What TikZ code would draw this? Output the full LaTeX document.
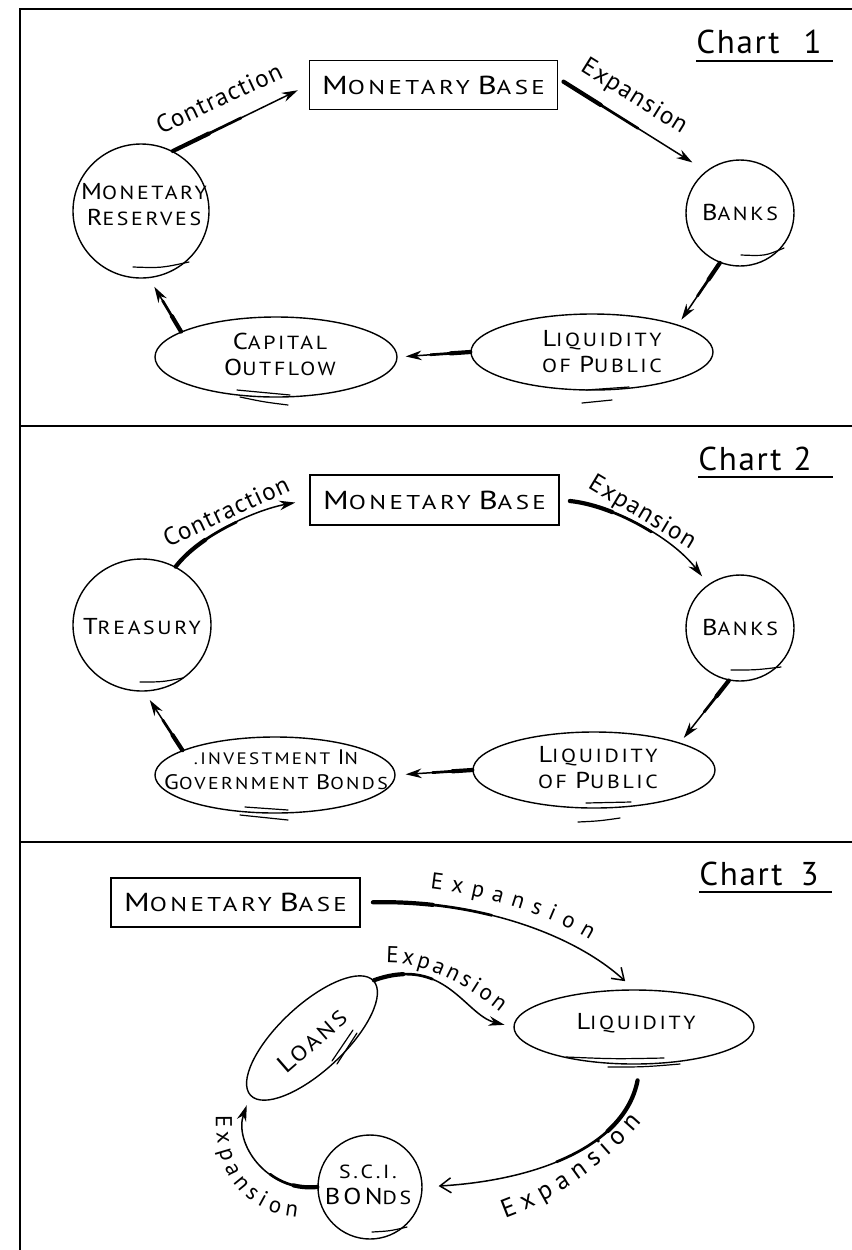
\documentclass[tikz,border=0pt]{standalone}
\usepackage{fontspec}
\setmainfont{PT Sans}
\newfontfamily\capsfont[FakeStretch=1.15,LetterSpace=14]{PT Sans}
\newfontfamily\boxfont[FakeStretch=1.25,LetterSpace=17]{PT Sans}
\newfontfamily\lowfont[LetterSpace=5]{PT Sans}
\usetikzlibrary{shapes.geometric,arrows.meta,decorations.text}
\newcommand\bigL[1]{{\fontsize{11.5pt}{13pt}\selectfont #1}}
\newcommand\smL[1]{{\fontsize{9.5pt}{13pt}\selectfont #1}}
\newcommand\sca[2]{\bigL{#1}\smL{#2}}
\newcommand\scl[2]{{\fontsize{12.5pt}{14pt}\selectfont #1}{\fontsize{10.5pt}{14pt}\selectfont #2}}
\newcommand\scb[2]{{\fontsize{13pt}{15pt}\selectfont #1}{\fontsize{10pt}{15pt}\selectfont #2}}
\newcommand\scc[2]{{\fontsize{10.5pt}{12.5pt}\selectfont #1}{\fontsize{8.6pt}{12.5pt}\selectfont #2}}
\newcommand\lblfont{\lowfont\fontsize{11.5pt}{13pt}\selectfont}
\newcommand\lblfontb{\lowfont\fontsize{13pt}{15pt}\selectfont}
\newcommand\arcfont{\lowfont\fontsize{12.5pt}{14pt}\selectfont}
\newcommand\titlefont{\lowfont\fontsize{16.5pt}{18pt}\selectfont}
\begin{document}
\begin{tikzpicture}[x=0.5pt,y=-0.5pt,
  every node/.style={inner sep=0pt},
  borderline/.style={line width=0.7pt},
  uline/.style={line width=0.8pt},
  basebox/.style={draw, line width=0.9pt, minimum width=124pt, minimum height=24.5pt, font=\boxfont},
  oval/.style={draw, ellipse, line width=0.7pt},
  ovaltext/.style={font=\capsfont\fontsize{9.5pt}{13pt}\selectfont, align=center},
  conn/.style={line width=0.75pt, line cap=round, -{Stealth[length=8pt,width=4.8pt,inset=2.6pt]}},
  barb/.style={line width=0.75pt, line cap=round, -{Straight Barb[length=5.5pt,width=7.5pt]}},
  taper/.style 2 args={preaction={draw,-,line width=2.1pt,line cap=round,dash pattern=on #1 off 2000pt},
     preaction={draw,-,line width=1.35pt,line cap=round,dash pattern=on #2 off 2000pt}},
  hatchline/.style={line width=0.6pt, line cap=round},
  lbl/.style={font=\arcfont},
  charttitle/.style={font=\titlefont, anchor=base west}
]
\useasboundingbox (0,0) rectangle (852,1250);
% frame
\draw[borderline] (20,1250) -- (20,9) -- (852,9);
\draw[borderline] (20,426) -- (852,426);
\draw[borderline] (20,842) -- (852,842);

% ================= Chart 1 =================
\node[charttitle] (t1) at (696,53) {Chart\hspace{12pt}1};
\draw[uline] ([yshift=-4pt]t1.base west) -- ++(137,0);
\node[basebox] (mb1) at (433.5,85) {\scb{M}{ONETARY}\hspace{4pt}\scb{B}{ASE}};
\node[oval, minimum width=68pt, minimum height=67pt] (res1) at (141,211) {};
\node[ovaltext] (res1t) at (144,205) {\sca{M}{ONETARY}\\\sca{R}{ESERVES}};
\node[oval, minimum width=54pt, minimum height=53pt] (banks1) at (740,213) {};
\node[ovaltext] (banks1t) at (740,212) {\sca{B}{ANKS}};
\node[oval, minimum width=121pt, minimum height=38pt] (liq1) at (592,352) {};
\node[ovaltext] (liq1t) at (602,352) {\sca{L}{IQUIDITY}\\\smL{OF} \sca{P}{UBLIC}};
\node[oval, minimum width=121pt, minimum height=40pt] (cap1) at (276,357) {};
\node[ovaltext] (cap1t) at (280,354) {\sca{C}{APITAL}\\\sca{O}{UTFLOW}};

\draw[conn, taper={20pt}{38pt}, shorten >=6pt] (res1.62) -- (mb1.west);
\draw[conn, taper={22pt}{44pt}, shorten <=3pt, shorten >=8pt] (mb1.3) -- (banks1.129);
\draw[conn, taper={10pt}{20pt}, shorten >=3pt] (banks1.248) -- (liq1.north east);
\draw[conn, taper={10pt}{20pt}, shorten >=4pt] (liq1.west) -- (cap1.east);
\draw[conn, taper={9pt}{18pt}, shorten >=5pt] (cap1.165) -- (res1.277);

\node[lbl, rotate=25] (c1lab) at (219,98) {Contraction};
\node[lbl, rotate=-32] (e1lab) at (634,97) {Expansion};

\draw[hatchline] ([shift={(-8,56)}]res1.center) .. controls ([shift={(20,57)}]res1.center) .. ([shift={(48,51)}]res1.center);
\draw[hatchline] ([shift={(1,42)}]banks1.center) .. controls ([shift={(25,43)}]banks1.center) .. ([shift={(44,35)}]banks1.center);
\draw[hatchline] ([shift={(-6,38)}]liq1.center) .. controls ([shift={(16,37)}]liq1.center) .. ([shift={(37,35)}]liq1.center);
\draw[hatchline] ([shift={(-10,51)}]liq1.center) .. controls ([shift={(5,50)}]liq1.center) .. ([shift={(20,48)}]liq1.center);
\draw[hatchline] ([shift={(-39,33)}]cap1.center) .. controls ([shift={(-12,36)}]cap1.center) .. ([shift={(14,38)}]cap1.center);
\draw[hatchline] ([shift={(-36,40)}]cap1.center) .. controls ([shift={(-12,45)}]cap1.center) .. ([shift={(12,48)}]cap1.center);

% ================= Chart 2 =================
\node[charttitle] (t2) at (698,470) {Chart\hspace{6pt}2};
\draw[uline] ([yshift=-3.5pt]t2.base west) -- ++(135,0);
\node[basebox, minimum width=124.5pt, minimum height=25pt] (mb2) at (434.5,500) {\scb{M}{ONETARY}\hspace{4pt}\scb{B}{ASE}};
\node[oval, minimum width=69pt, minimum height=66pt] (tre2) at (142,625) {};
\node[ovaltext] (tre2t) at (142,627) {\sca{T}{REASURY}};
\node[oval, minimum width=54pt, minimum height=53pt] (banks2) at (740,628) {};
\node[ovaltext] (banks2t) at (740,627) {\sca{B}{ANKS}};
\node[oval, minimum width=121pt, minimum height=38pt] (liq2) at (594,770) {};
\node[ovaltext] (liq2t) at (598,768) {\sca{L}{IQUIDITY}\\\smL{OF} \sca{P}{UBLIC}};
\node[oval, minimum width=120pt, minimum height=38pt] (inv2) at (275,775) {};
\node[ovaltext, font=\capsfont\fontsize{8.3pt}{12.5pt}\selectfont] (inv2t) at (276,770) {.INVESTMENT \scc{I}{N}\\\scc{G}{OVERNMENT} \scc{B}{ONDS}};

\draw[conn, taper={20pt}{38pt}, shorten >=7pt] (tre2.60) .. controls (200,535) and (255,510) .. (mb2.west);
\draw[conn, taper={22pt}{44pt}, shorten <=5pt, shorten >=5pt] (mb2.east) .. controls (610,505) and (670,535) .. (banks2.126);
\draw[conn, taper={10pt}{20pt}, shorten >=3pt] (banks2.258) -- (liq2.north east);
\draw[conn, taper={10pt}{20pt}, shorten >=5pt] (liq2.west) -- (inv2.east);
\draw[conn, taper={9pt}{18pt}, shorten >=5pt] (inv2.165) -- (tre2.272);

\node[lbl, rotate=25] (c2lab) at (226,511) {Contraction};
\node[lbl, rotate=-31] (e2lab) at (642,513) {Expansion};

\draw[hatchline] ([shift={(-2,57)}]tre2.center) .. controls ([shift={(20,57)}]tre2.center) .. ([shift={(41,53)}]tre2.center);
\draw[hatchline] ([shift={(-9,42)}]banks2.center) .. controls ([shift={(16,42)}]banks2.center) .. ([shift={(41,39)}]banks2.center);
\draw[hatchline] ([shift={(-8,33)}]liq2.center) .. controls ([shift={(15,33)}]liq2.center) .. ([shift={(37,32)}]liq2.center);
\draw[hatchline] ([shift={(-16,52)}]liq2.center) .. controls ([shift={(5,51)}]liq2.center) .. ([shift={(26,48)}]liq2.center);
\draw[hatchline] ([shift={(-30,32)}]inv2.center) .. controls ([shift={(-8,34)}]inv2.center) .. ([shift={(13,35)}]inv2.center);
\draw[hatchline] ([shift={(-35,40)}]inv2.center) .. controls ([shift={(-11,43)}]inv2.center) .. ([shift={(13,45)}]inv2.center);

% ================= Chart 3 =================
\node[charttitle] (t3) at (699,885) {Chart\hspace{9pt}3};
\draw[uline] ([yshift=-3.5pt]t3.base west) -- ++(133,0);
\node[basebox, minimum width=124.5pt, minimum height=24.5pt] (mb3) at (235.5,902.5) {\scb{M}{ONETARY}\hspace{4pt}\scb{B}{ASE}};
\node[oval, minimum width=84pt, minimum height=33pt, rotate=43] (loans3) at (312,1038) {};
\node[ovaltext, rotate=41] (loans3t) at (312,1041) {\scl{L}{OANS}};
\node[oval, minimum width=120pt, minimum height=37pt] (liq3) at (634,1027) {};
\node[ovaltext] (liq3t) at (636,1023) {\sca{L}{IQUIDITY}};
\node[oval, minimum width=52pt, minimum height=52pt] (bonds3) at (370,1187) {};
\node[ovaltext] (bonds3t) at (368,1185) {\smL{S.C.I.}\\\bigL{BON}\smL{DS}};

\draw[barb, taper={30pt}{60pt}, shorten <=6pt, shorten >=6pt] (mb3.east) .. controls (480,900) and (575,935) .. (liq3.north);
\draw[conn, taper={15pt}{30pt}, shorten >=4.5pt] (loans3.east) .. controls (445,955) and (465,1015) .. (liq3.west);
\draw[barb, taper={30pt}{60pt}, shorten <=8pt, shorten >=8pt] (liq3.280) .. controls (625,1145) and (540,1180) .. (bonds3.east);
\draw[conn, taper={12pt}{25pt}, shorten >=5pt] (bonds3.west) .. controls (265,1192) and (234,1142) .. (loans3.west);

\path[decorate, decoration={text along path, text align={fit to path}, text={|\lblfont|Expansion}}]
  (430,889) .. controls (480,895) and (540,910) .. (590,940);
\path[decorate, decoration={text along path, text align={fit to path}, text={|\lblfont|Expansion}}]
  (386,963) .. controls (420,962) and (460,980) .. (500,1012);
\path[decorate, decoration={text along path, text align={fit to path}, text={|\lblfontb|Expansion}}]
  (505,1218) .. controls (555,1200) and (605,1165) .. (642,1122);
\path[decorate, decoration={text along path, text align={fit to path}, text={|\lblfont|Expansion}}]
  (216,1115) .. controls (214,1175) and (245,1212) .. (297,1217);

\draw[hatchline] ([shift={(20,23)}]loans3.center) -- ([shift={(41,-8)}]loans3.center);
\draw[hatchline] ([shift={(25,26)}]loans3.center) -- ([shift={(45,-5)}]loans3.center);
\draw[hatchline] ([shift={(-68,30)}]liq3.center) .. controls ([shift={(-20,32)}]liq3.center) .. ([shift={(30,31)}]liq3.center);
\draw[hatchline] ([shift={(-26,40)}]liq3.center) .. controls ([shift={(10,40)}]liq3.center) .. ([shift={(46,37)}]liq3.center);
\draw[hatchline] ([shift={(2,45)}]bonds3.center) .. controls ([shift={(20,44)}]bonds3.center) .. ([shift={(37,40)}]bonds3.center);
\end{tikzpicture}
\end{document}
